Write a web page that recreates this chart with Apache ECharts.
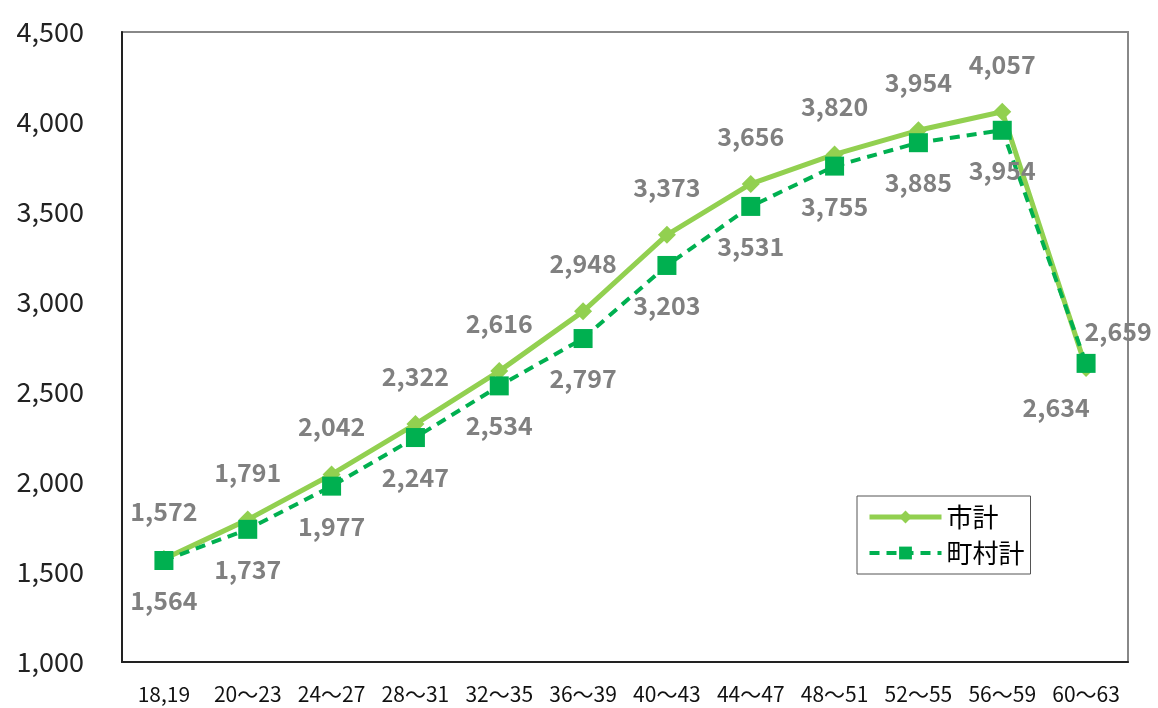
<!DOCTYPE html>
<html><head><meta charset="utf-8">
<script src="https://cdn.jsdelivr.net/npm/echarts@6/dist/echarts.min.js"></script>
<style>html,body{margin:0;padding:0;background:#fff}#c{width:1158px;height:708px}</style>
</head><body><div id="c"></div>
<script>
const categories = ['18,19','20～23','24～27','28～31','32～35','36～39','40～43','44～47','48～51','52～55','56～59','60～63'];
const cityValues = [1572,1791,2042,2322,2616,2948,3373,3656,3820,3954,4057,2634];
const townValues = [1564,1737,1977,2247,2534,2797,3203,3531,3755,3885,3954,2659];
const seriesNames = ['市計','町村計'];

const FONT = '"Noto Sans CJK JP", "Noto Sans", sans-serif';
const fmt = v => v.toLocaleString('en-US');
const lblBase = {show:true, fontFamily:FONT, fontSize:25, fontWeight:'bold', color:'#808080', formatter: p => fmt(p.value)};

const cityData = cityValues.map((v,i) => {
  if (i === cityValues.length-1) return {value:v, label:{position:'bottom', distance:18, offset:[-30,0]}};
  return {value:v};
});
const townData = townValues.map((v,i) => {
  if (i === townValues.length-1) return {value:v, label:{position:'top', distance:10, offset:[32,0]}};
  return {value:v};
});

const chart = echarts.init(document.getElementById('c'));
chart.setOption({
  animation:false,
  grid:{left:122, right:30, top:32, bottom:46, show:true, borderColor:'#888', borderWidth:2},
  legend:{
    orient:'vertical', left:857, top:496,
    data:[
      {name:seriesNames[0], lineStyle:{width:5}},
      {name:seriesNames[1], lineStyle:{width:4}}
    ],
    itemWidth:72, itemHeight:16, itemGap:10,
    borderColor:'#555', borderWidth:1, padding:[8,6,8,10],
    textStyle:{fontFamily:FONT, fontSize:26, color:'#000'}
  },
  xAxis:{
    type:'category', data:categories, boundaryGap:true,
    axisLine:{lineStyle:{color:'#222', width:2}},
    axisTick:{alignWithLabel:true, length:6, lineStyle:{color:'#222'}},
    axisLabel:{fontFamily:FONT, fontSize:21, color:'#111', margin:22, interval:0}
  },
  yAxis:{
    type:'value', min:1000, max:4500, interval:500,
    axisLine:{show:true, lineStyle:{color:'#222', width:2}},
    axisTick:{show:false},
    splitLine:{show:false},
    axisLabel:{fontFamily:FONT, fontSize:27, color:'#222', margin:38, formatter: v => fmt(v)}
  },
  series:[
    {name:seriesNames[0], type:'line', data:cityData, symbol:'diamond', symbolSize:18,
     lineStyle:{color:'#92D050', width:5}, itemStyle:{color:'#92D050'},
     label:Object.assign({}, lblBase, {position:'top', distance:26}), z:2},
    {name:seriesNames[1], type:'line', data:townData, symbol:'rect', symbolSize:19,
     lineStyle:{color:'#00B050', width:4, type:[10,7]}, itemStyle:{color:'#00B050'},
     label:Object.assign({}, lblBase, {position:'bottom', distance:18}), z:3}
  ]
});
</script></body></html>
